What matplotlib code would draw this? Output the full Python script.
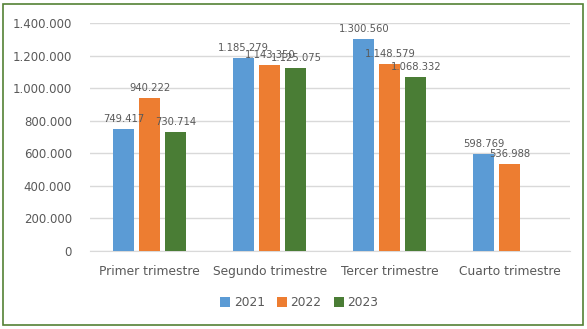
import matplotlib.pyplot as plt
import numpy as np
from matplotlib.patches import Rectangle

categorias = ['Primer trimestre', 'Segundo trimestre', 'Tercer trimestre', 'Cuarto trimestre']
anios = ['2021', '2022', '2023']
v2021 = [749417, 1185279, 1300560, 598769]
v2022 = [940222, 1143350, 1148579, 536988]
v2023 = [730714, 1125075, 1068332, None]
colores = ['#5B9BD5', '#ED7D31', '#4A7D35']

def fmt(v):
    return f'{v:,.0f}'.replace(',', '.')

fig = plt.figure(figsize=(5.87, 3.29), dpi=100)
ax = fig.add_axes([0.153, 0.237, 0.818, 0.693])

x = np.arange(len(categorias))
ancho = 0.175
paso = 0.217
gris = '#595959'
for i, (serie, col, nombre) in enumerate(zip([v2021, v2022, v2023], colores, anios)):
    xs = [xi + (i - 1) * paso for xi, v in zip(x, serie) if v is not None]
    vs = [v for v in serie if v is not None]
    ax.bar(xs, vs, width=ancho, color=col, label=nombre, zorder=3)
    for xi, v in zip(xs, vs):
        ax.annotate(fmt(v), (xi, v), xytext=(0, 3.5), textcoords='offset points',
                    ha='center', va='bottom', fontsize=7.2, color=gris, zorder=4)

ax.set_xlim(-0.5, 3.5)
ax.set_ylim(0, 1400000)
ax.set_yticks(range(0, 1400001, 200000))
ax.set_yticklabels([fmt(t) for t in range(0, 1400001, 200000)], fontsize=8.5, color=gris)
ax.set_xticks(x)
ax.set_xticklabels(categorias, fontsize=8.8, color=gris)
ax.tick_params(length=0, pad=10)
ax.tick_params(axis='y', pad=13)
ax.grid(axis='y', color='#D9D9D9', linewidth=1, zorder=0)
for s in ['top', 'right', 'left']:
    ax.spines[s].set_visible(False)
ax.spines['bottom'].set_color('#D9D9D9')

fig.legend(loc='center', bbox_to_anchor=(0.51, 0.08), ncol=3, frameon=False,
           fontsize=8.8, handlelength=0.8, handleheight=0.8, columnspacing=1.0,
           handletextpad=0.3, labelcolor=gris)

fig.patches.append(Rectangle((3 / 587, 4 / 329), 580 / 587, 321 / 329,
                             transform=fig.transFigure, fill=False,
                             edgecolor='#548235', linewidth=1.2))

fig.savefig('out.png', dpi=100)
